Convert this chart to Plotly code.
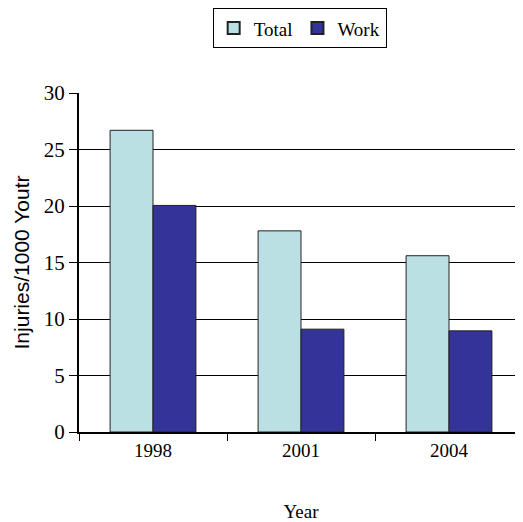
import plotly.graph_objects as go

years = ["1998", "2001", "2004"]
total = [26.7, 17.8, 15.6]
work = [20.05, 9.1, 8.95]

fig = go.Figure()
fig.add_trace(go.Bar(x=years, y=total, name="Total", marker=dict(color="#BBE0E3", line=dict(color="#222222", width=1))))
fig.add_trace(go.Bar(x=years, y=work, name="Work", marker=dict(color="#333399", line=dict(color="#222222", width=1))))

fig.update_layout(
    width=515, height=514,
    margin=dict(l=71, r=0, t=84, b=88),
    paper_bgcolor="white", plot_bgcolor="white",
    barmode="group", bargap=0.42, bargroupgap=0,
    font=dict(family="Liberation Serif", size=19, color="black"),
    showlegend=True,
    legend=dict(orientation="h", x=0.497, xanchor="center", y=1.25, yanchor="top",
                bordercolor="black", borderwidth=1, font=dict(size=19),
                itemsizing="constant", itemwidth=30, tracegroupgap=0),
    xaxis=dict(type="category", tickson="boundaries", ticks="outside", ticklen=7,
               tickcolor="black", showline=True, linecolor="black", linewidth=2,
               title=dict(text="Year", standoff=48, font=dict(size=19)),
               tickfont=dict(size=19)),
    yaxis=dict(range=[0, 30], dtick=5, ticks="outside", ticklen=8, tickcolor="black",
               showline=True, linecolor="black", linewidth=2, showgrid=True,
               gridcolor="black", gridwidth=1, zeroline=False,
               title=dict(text="Injuries/1000 Youtr", font=dict(family="Liberation Sans", size=21), standoff=8),
               tickfont=dict(size=21)),
)
fig.write_html("out.html")
